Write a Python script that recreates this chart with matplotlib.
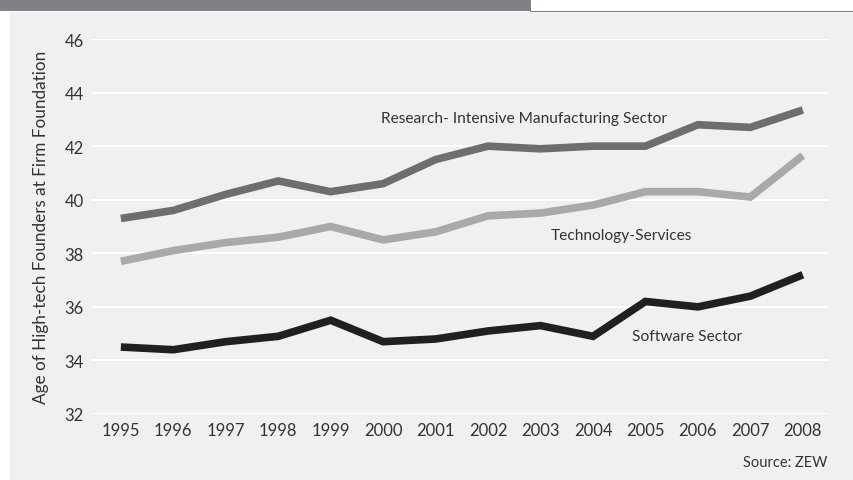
import matplotlib.pyplot as plt
from matplotlib.patches import Rectangle
from matplotlib.lines import Line2D

years = list(range(1995, 2009))
research = [39.3, 39.6, 40.2, 40.7, 40.3, 40.6, 41.5, 42.0, 41.9, 42.0, 42.0, 42.8, 42.7, 43.35]
tech_services = [37.7, 38.1, 38.4, 38.6, 39.0, 38.5, 38.8, 39.4, 39.5, 39.8, 40.3, 40.3, 40.1, 41.65]
software = [34.5, 34.4, 34.7, 34.9, 35.5, 34.7, 34.8, 35.1, 35.3, 34.9, 36.2, 36.0, 36.4, 37.2]
yticks = [32, 34, 36, 38, 40, 42, 44, 46]

plt.rcParams['font.family'] = ['Lato', 'DejaVu Sans']
txt = '#333333'

W, H = 854, 481
fig = plt.figure(figsize=(W / 100, H / 100), dpi=100, facecolor='white')

# panel background and top bar
fig.patches.append(Rectangle((10 / W, 0), 1 - 10 / W, 1 - 13 / H, transform=fig.transFigure,
                             facecolor='#f0f0f0', edgecolor='none', zorder=-2))
fig.patches.append(Rectangle((0, 1 - 12 / H), 531 / W, 12 / H, transform=fig.transFigure,
                             facecolor='#808184', edgecolor='none', zorder=-2))
fig.lines.append(Line2D([531 / W, 1], [1 - 13 / H, 1 - 13 / H], transform=fig.transFigure,
                        color='#808184', lw=1.5, zorder=-2))

ax = fig.add_axes([92 / W, 1 - 415 / H, (828 - 92) / W, (415 - 40) / H])
ax.set_zorder(2)
ax.set_facecolor('none')
for s in ax.spines.values():
    s.set_visible(False)

ax.set_xlim(1994.45, 2008.48)
ax.set_ylim(32, 46)
ax.set_yticks(yticks)
ax.set_xticks(years)
ax.grid(axis='y', color='white', lw=1.5)
ax.set_axisbelow(True)
ax.tick_params(length=0, labelsize=12, colors=txt, pad=6)

line_kw = dict(lw=5.5, solid_joinstyle='miter', solid_capstyle='butt')
ax.plot(years, research, color='#6d6e70', **line_kw)
ax.plot(years, tech_services, color='#a7a9ac', **line_kw)
ax.plot(years, software, color='#231f20', **line_kw)

ax.text(1999.95, 43.05, 'Research- Intensive Manufacturing Sector', fontsize=11.2, color=txt, va='center')
ax.text(2003.2, 38.7, 'Technology-Services', fontsize=11.2, color=txt, va='center')
ax.text(2004.75, 34.9, 'Software Sector', fontsize=11.2, color=txt, va='center')

ax.set_ylabel('Age of High-tech Founders at Firm Foundation', fontsize=12.3, color=txt, labelpad=11)
fig.text(827 / W, 1 - 463 / H, 'Source: ZEW', fontsize=10.5, color=txt, ha='right', va='center')

fig.savefig('out.png', dpi=100, facecolor=fig.get_facecolor())
